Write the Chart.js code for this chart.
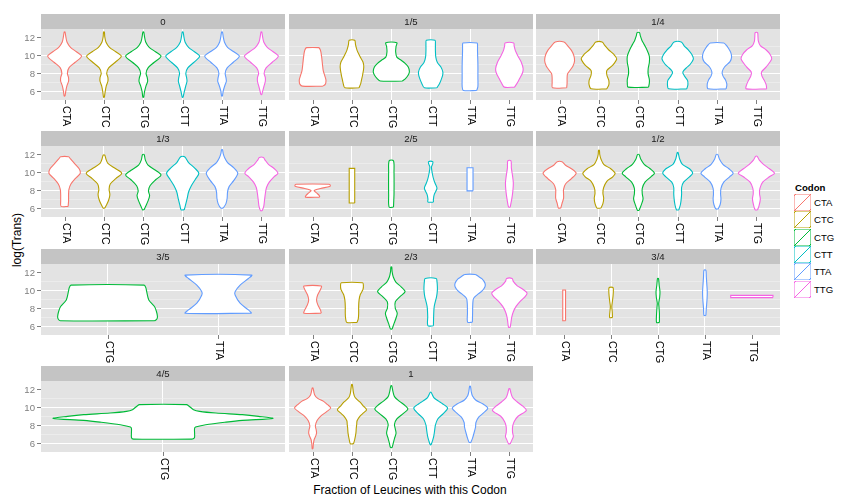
<!DOCTYPE html>
<html>
<head>
<meta charset="utf-8">
<script src="https://cdn.jsdelivr.net/npm/chart.js@4"></script>
<style>
  html, body { margin: 0; padding: 0; background: #fff; }
  #wrap { position: relative; width: 864px; height: 504px; overflow: hidden; font-family: "Liberation Sans", Arial, sans-serif; }
  #wrap canvas { position: absolute; }
  .axis-title { position: absolute; font-size: 12px; color: #000; white-space: nowrap; line-height: 14px; }
  #legend { position: absolute; left: 794px; top: 182px; font-size: 9.6px; }
  #legend .lt { font-weight: bold; height: 12px; line-height: 12px; margin-left: 1px; }
  #legend .row { display: flex; align-items: center; height: 17.3px; }
  #legend .key { width: 17px; height: 17px; box-sizing: border-box; }
  #legend .lab { margin-left: 3px; }
</style>
</head>
<body>
<div id="wrap">
  <div class="axis-title" style="left:410px; top:483px; transform:translateX(-50%);">Fraction of Leucines with this Codon</div>
  <div class="axis-title" style="left:17px; top:240px; transform:translate(-50%,-50%) rotate(-90deg);">log(Trans)</div>
  <div id="legend"><div class="lt">Codon</div></div>
</div>
<script>
// ----- Data -----
const codons = ["CTA", "CTC", "CTG", "CTT", "TTA", "TTG"];
const codonColors = ["#F8766D", "#B79F00", "#00BA38", "#00BFC4", "#619CFF", "#F564E3"];
const facets = ["0", "1/5", "1/4", "1/3", "2/5", "1/2", "3/5", "2/3", "3/4", "4/5", "1"];
const facetCodons = [codons, codons, codons, codons, codons, codons,
  ["CTG", "TTA"], codons, ["CTA", "CTC", "CTG", "TTA", "TTG"], ["CTG"], codons];
const yTicks = [6, 8, 10, 12];
const yMin = 5.0, yMax = 12.95;

// violin outlines, bottom to top: [log(Trans), half width]
const vio0 = [
  [[5.43,0.01],[6.0,0.03],[6.6,0.06],[7.1,0.1],[7.5,0.1],[8.0,0.07],[8.6,0.11],[9.2,0.26],[9.9,0.43],[10.4,0.3],[10.9,0.15],[11.5,0.06],[12.1,0.03],[12.62,0.01]],
  [[5.3,0.01],[5.9,0.03],[6.6,0.06],[7.1,0.1],[7.5,0.1],[8.0,0.07],[8.6,0.12],[9.2,0.28],[9.9,0.44],[10.4,0.3],[10.9,0.14],[11.5,0.05],[12.1,0.02],[12.62,0.01]],
  [[5.3,0.01],[5.9,0.03],[6.6,0.07],[7.1,0.11],[7.5,0.1],[8.0,0.07],[8.6,0.12],[9.2,0.27],[9.9,0.45],[10.4,0.31],[10.9,0.15],[11.5,0.06],[12.1,0.03],[12.62,0.01]],
  [[5.3,0.01],[5.9,0.04],[6.6,0.08],[7.1,0.11],[7.5,0.1],[8.0,0.08],[8.6,0.13],[9.2,0.28],[9.9,0.43],[10.4,0.3],[10.9,0.15],[11.5,0.06],[12.1,0.03],[12.62,0.01]],
  [[5.43,0.01],[6.0,0.03],[6.6,0.07],[7.1,0.11],[7.5,0.1],[8.0,0.08],[8.6,0.13],[9.2,0.28],[9.9,0.44],[10.4,0.3],[10.9,0.14],[11.5,0.06],[12.1,0.03],[12.62,0.01]],
  [[5.6,0.01],[6.1,0.04],[6.6,0.07],[7.1,0.1],[7.5,0.1],[8.0,0.07],[8.6,0.12],[9.2,0.27],[9.9,0.43],[10.4,0.3],[10.9,0.15],[11.5,0.06],[12.1,0.03],[12.62,0.01]]
];
const vio15 = [
  [[6.55,0.26],[6.75,0.32],[7.2,0.34],[7.7,0.31],[8.3,0.27],[9.0,0.25],[9.8,0.23],[10.4,0.21],[10.75,0.18],[10.86,0.15]],
  [[6.37,0.18],[6.8,0.22],[7.2,0.24],[7.8,0.27],[8.7,0.3],[9.25,0.28],[9.9,0.2],[10.56,0.13],[11.2,0.09],[11.69,0.07]],
  [[7.12,0.28],[7.4,0.36],[7.8,0.43],[8.2,0.46],[8.7,0.43],[9.1,0.35],[9.45,0.25],[9.8,0.14],[10.4,0.11],[11.0,0.12],[11.42,0.14]],
  [[6.37,0.16],[6.8,0.22],[7.2,0.26],[7.7,0.3],[8.13,0.31],[8.7,0.26],[9.2,0.17],[9.8,0.13],[10.6,0.12],[11.3,0.12],[11.69,0.11]],
  [[6.07,0.17],[6.5,0.2],[7.5,0.2],[9.0,0.2],[10.5,0.19],[11.2,0.19],[11.39,0.18]],
  [[6.44,0.13],[6.9,0.2],[7.4,0.26],[8.0,0.33],[8.5,0.35],[9.25,0.3],[9.9,0.22],[10.56,0.15],[11.1,0.12],[11.39,0.11]]
];
const vio14 = [
  [[6.37,0.18],[6.9,0.19],[7.4,0.19],[7.9,0.2],[8.3,0.26],[8.8,0.34],[9.4,0.38],[10.0,0.36],[10.56,0.3],[11.1,0.2],[11.5,0.11]],
  [[6.25,0.2],[6.7,0.25],[7.2,0.25],[7.8,0.2],[8.3,0.2],[8.9,0.35],[9.6,0.45],[10.1,0.38],[10.6,0.25],[11.1,0.15],[11.5,0.08]],
  [[6.44,0.26],[6.9,0.28],[7.3,0.28],[7.9,0.25],[8.5,0.25],[9.2,0.28],[9.9,0.28],[10.6,0.22],[11.2,0.15],[11.7,0.09],[12.2,0.05],[12.55,0.03]],
  [[6.25,0.23],[6.7,0.26],[7.2,0.25],[7.7,0.17],[8.13,0.13],[8.6,0.22],[9.0,0.32],[9.6,0.4],[10.1,0.36],[10.6,0.27],[11.1,0.16],[11.5,0.09]],
  [[6.25,0.23],[6.7,0.25],[7.2,0.22],[7.7,0.15],[8.13,0.13],[8.7,0.19],[9.3,0.33],[9.8,0.37],[10.3,0.35],[10.8,0.29],[11.2,0.22],[11.39,0.17]],
  [[6.25,0.26],[6.7,0.25],[7.2,0.2],[7.7,0.14],[8.13,0.13],[8.7,0.25],[9.6,0.39],[10.1,0.35],[10.6,0.25],[11.1,0.1],[11.6,0.05],[12.1,0.04],[12.55,0.03]]
];
const vio13 = [
  [[6.19,0.09],[6.8,0.1],[7.5,0.1],[8.1,0.11],[8.7,0.16],[9.3,0.27],[9.9,0.4],[10.4,0.37],[11.0,0.25],[11.5,0.15],[11.74,0.1]],
  [[6.0,0.02],[6.4,0.07],[6.9,0.12],[7.5,0.15],[8.1,0.13],[8.7,0.16],[9.3,0.3],[9.9,0.45],[10.4,0.3],[11.0,0.1],[11.5,0.05],[11.93,0.02]],
  [[5.81,0.02],[6.2,0.06],[6.8,0.12],[7.4,0.16],[7.9,0.13],[8.5,0.17],[9.2,0.32],[9.7,0.45],[10.2,0.32],[10.8,0.12],[11.4,0.05],[12.0,0.02]],
  [[5.81,0.04],[6.3,0.07],[7.0,0.11],[7.8,0.15],[8.5,0.22],[9.2,0.32],[9.9,0.41],[10.5,0.3],[11.1,0.15],[11.74,0.05]],
  [[6.0,0.03],[6.5,0.1],[7.1,0.13],[7.8,0.14],[8.4,0.18],[9.1,0.3],[9.9,0.4],[10.5,0.3],[11.1,0.14],[11.6,0.07],[12.1,0.03],[12.55,0.01]],
  [[5.7,0.02],[6.2,0.06],[6.9,0.08],[7.6,0.1],[8.3,0.13],[8.9,0.2],[9.5,0.32],[9.9,0.42],[10.4,0.33],[10.9,0.18],[11.4,0.09],[11.67,0.05]]
];
const vio25 = [
  [[7.22,0.18],[7.4,0.17],[7.7,0.1],[7.96,0.04],[8.2,0.2],[8.41,0.43],[8.55,0.45],[8.67,0.42]],
  [[6.56,0.07],[10.44,0.07]],
  [[6.11,0.055],[7.5,0.068],[8.7,0.07],[10.0,0.068],[11.3,0.055]],
  [[6.67,0.07],[7.0,0.07],[7.5,0.09],[8.2,0.16],[8.7,0.12],[9.15,0.08],[9.9,0.04],[10.6,0.02],[10.95,0.05],[11.19,0.055]],
  [[7.93,0.076],[10.52,0.076]],
  [[6.11,0.02],[7.0,0.06],[8.0,0.09],[8.8,0.1],[9.6,0.08],[10.5,0.05],[11.3,0.04]]
];
const vio12 = [
  [[6.0,0.03],[6.5,0.06],[7.1,0.1],[7.6,0.1],[8.1,0.1],[8.7,0.15],[9.3,0.3],[9.9,0.42],[10.4,0.3],[10.8,0.15],[11.19,0.06]],
  [[6.0,0.05],[6.5,0.1],[7.1,0.12],[7.7,0.1],[8.3,0.12],[9.0,0.2],[9.5,0.35],[9.9,0.41],[10.4,0.3],[10.9,0.12],[11.5,0.05],[12.0,0.02],[12.48,0.01]],
  [[5.74,0.02],[6.3,0.07],[7.0,0.12],[7.6,0.1],[8.2,0.1],[8.9,0.17],[9.5,0.32],[9.9,0.41],[10.4,0.3],[10.9,0.15],[11.5,0.06],[12.0,0.02]],
  [[5.8,0.03],[6.4,0.07],[7.0,0.09],[7.6,0.1],[8.3,0.1],[8.9,0.15],[9.5,0.3],[9.9,0.38],[10.4,0.3],[10.9,0.12],[11.5,0.05],[12.22,0.01]],
  [[5.9,0.03],[6.4,0.08],[7.0,0.1],[7.6,0.09],[8.2,0.1],[8.9,0.17],[9.5,0.32],[9.9,0.41],[10.4,0.3],[10.9,0.15],[11.5,0.06],[12.0,0.02]],
  [[5.8,0.03],[6.3,0.07],[7.0,0.1],[7.6,0.08],[8.2,0.09],[8.9,0.16],[9.5,0.33],[9.9,0.46],[10.4,0.33],[10.9,0.18],[11.4,0.07],[11.8,0.02]]
];
const vio35 = [
  [[6.59,0.426],[6.8,0.445],[7.07,0.45],[7.63,0.441],[8.19,0.423],[8.93,0.372],[9.85,0.353],[10.3,0.345],[10.59,0.33]],
  [[7.44,0.3],[7.81,0.27],[8.56,0.195],[9.48,0.15],[9.85,0.15],[10.59,0.195],[11.33,0.27],[11.7,0.3]]
];
const vio23 = [
  [[7.44,0.22],[7.8,0.2],[8.4,0.13],[8.93,0.1],[9.5,0.13],[10.1,0.2],[10.48,0.22]],
  [[6.41,0.13],[6.8,0.16],[7.4,0.17],[8.2,0.17],[8.9,0.18],[9.5,0.21],[10.1,0.28],[10.6,0.29],[10.85,0.27]],
  [[5.67,0.02],[6.3,0.07],[6.9,0.12],[7.44,0.15],[8.0,0.1],[8.7,0.1],[9.3,0.22],[9.85,0.35],[10.4,0.25],[10.9,0.12],[11.5,0.05],[12.1,0.02],[12.63,0.01]],
  [[6.04,0.07],[7.07,0.075],[8.19,0.09],[9.3,0.15],[10.0,0.17],[10.41,0.17],[11.0,0.16],[11.33,0.14]],
  [[6.44,0.06],[7.5,0.065],[8.5,0.07],[9.1,0.09],[9.5,0.18],[9.9,0.3],[10.4,0.38],[10.8,0.38],[11.3,0.3],[11.6,0.2],[11.78,0.13]],
  [[5.85,0.02],[6.4,0.04],[7.0,0.06],[7.6,0.1],[8.2,0.17],[8.8,0.28],[9.3,0.4],[9.7,0.45],[10.1,0.35],[10.5,0.2],[11.0,0.1],[11.33,0.07]]
];
const vio34 = [
  [[6.59,0.03],[10.04,0.03]],
  [[6.96,0.03],[7.6,0.025],[8.19,0.015],[8.8,0.03],[9.6,0.045],[10.3,0.042]],
  [[6.4,0.03],[7.44,0.03],[8.2,0.02],[8.56,0.015],[9.2,0.035],[9.85,0.042],[10.6,0.025],[11.33,0.01]],
  [[7.19,0.02],[8.0,0.03],[9.0,0.045],[9.85,0.05],[10.7,0.04],[11.5,0.03],[12.26,0.02]],
  [[9.19,0.45],[9.44,0.45]]
];
const vio45 = [
  [[6.44,0.145],[6.6,0.155],[7.6,0.155],[7.79,0.16],[8.05,0.21],[8.35,0.31],[8.54,0.39],[8.76,0.54],[8.99,0.47],[9.18,0.39],[9.36,0.26],[9.55,0.18],[9.74,0.15],[10.1,0.13],[10.3,0.115]]
];
const vio1 = [
  [[5.36,0.01],[5.9,0.02],[6.4,0.04],[6.8,0.08],[7.12,0.1],[7.5,0.09],[7.9,0.07],[8.5,0.11],[9.0,0.2],[9.5,0.35],[9.93,0.46],[10.3,0.38],[10.67,0.28],[11.0,0.13],[11.42,0.05],[12.17,0.01]],
  [[5.92,0.04],[6.4,0.07],[7.12,0.1],[7.7,0.11],[8.05,0.12],[8.5,0.13],[9.0,0.2],[9.4,0.3],[9.74,0.37],[10.1,0.3],[10.6,0.2],[11.1,0.08],[11.6,0.04],[12.55,0.01]],
  [[5.5,0.02],[6.0,0.05],[6.5,0.08],[7.1,0.12],[7.6,0.1],[8.1,0.08],[8.7,0.14],[9.3,0.3],[9.8,0.42],[10.2,0.35],[10.7,0.2],[11.2,0.08],[11.8,0.04],[12.43,0.01]],
  [[5.8,0.01],[6.3,0.05],[6.8,0.08],[7.4,0.1],[8.0,0.12],[8.7,0.18],[9.3,0.32],[9.93,0.43],[10.4,0.3],[10.7,0.2],[11.1,0.08],[11.69,0.01]],
  [[6.07,0.02],[6.5,0.06],[7.1,0.1],[7.8,0.14],[8.3,0.15],[8.9,0.22],[9.4,0.35],[9.93,0.45],[10.4,0.32],[10.8,0.15],[11.3,0.06],[11.8,0.03],[12.36,0.01]],
  [[5.92,0.02],[6.3,0.06],[6.74,0.1],[7.2,0.08],[7.8,0.08],[8.4,0.12],[9.0,0.22],[9.66,0.43],[10.1,0.35],[10.6,0.2],[11.1,0.08],[11.6,0.04],[12.1,0.01]]
];
const facetViolins = [vio0, vio15, vio14, vio13, vio25, vio12, vio35, vio23, vio34, vio45, vio1];

// ----- Layout -----
const colLefts = [41, 289, 536];
const panelTops = [29, 146, 264, 381];
const panelW = 244, panelH = 71, stripH = 15, labelH = 32, yLabW = 41;
const FONT = '"Liberation Sans", Arial, sans-serif';

// closed outline: right side upward, left side downward, back to start
function outline(prof, xc) {
  const right = prof.map(([y, w]) => ({ x: xc + w, y }));
  const left = prof.slice().reverse().map(([y, w]) => ({ x: xc - w, y }));
  return right.concat(left, [right[0]]);
}

const panelDeco = {
  id: 'panelDeco',
  beforeDraw(chart, args, opts) {
    const { ctx, chartArea: a } = chart;
    ctx.save();
    ctx.fillStyle = '#e3e3e3';
    ctx.fillRect(a.left, a.top, a.right - a.left, a.bottom - a.top);
    ctx.fillStyle = '#c4c4c4';
    ctx.fillRect(a.left, 0, a.right - a.left, a.top);
    ctx.fillStyle = '#1a1a1a';
    ctx.font = '9.6px ' + FONT;
    ctx.textAlign = 'center';
    ctx.textBaseline = 'middle';
    ctx.fillText(opts.title, (a.left + a.right) / 2, a.top / 2 + 0.5);
    ctx.restore();
  },
  afterDraw(chart, args, opts) {
    const { ctx, chartArea: a, scales: { x, y } } = chart;
    ctx.save();
    ctx.strokeStyle = '#7f7f7f';
    ctx.lineWidth = 1;
    opts.labels.forEach((lab, i) => {
      const px = Math.round(x.getPixelForValue(i + 1)) + 0.5;
      ctx.beginPath();
      ctx.moveTo(px, a.bottom);
      ctx.lineTo(px, a.bottom + 4);
      ctx.stroke();
      ctx.save();
      ctx.translate(px, a.bottom + 6);
      ctx.rotate(Math.PI / 2);
      ctx.fillStyle = '#000';
      ctx.font = '10.5px ' + FONT;
      ctx.textAlign = 'left';
      ctx.textBaseline = 'middle';
      ctx.fillText(lab, 0, 0);
      ctx.restore();
    });
    if (opts.yLabels) {
      ctx.fillStyle = '#7f7f7f';
      ctx.font = '9.6px ' + FONT;
      ctx.textAlign = 'right';
      ctx.textBaseline = 'middle';
      yTicks.forEach(v => {
        const py = Math.round(y.getPixelForValue(v)) + 0.5;
        ctx.beginPath();
        ctx.moveTo(a.left - 4, py);
        ctx.lineTo(a.left, py);
        ctx.stroke();
        ctx.fillText(String(v), a.left - 6, py + 0.5);
      });
    }
    ctx.restore();
  }
};

const wrap = document.getElementById('wrap');

facets.forEach((title, f) => {
  const row = Math.floor(f / 3), col = f % 3;
  const labels = facetCodons[f];
  const n = labels.length;
  const padL = col === 0 ? yLabW : 0;
  const canvas = document.createElement('canvas');
  canvas.width = padL + panelW;
  canvas.height = stripH + panelH + labelH;
  canvas.style.left = (colLefts[col] - padL) + 'px';
  canvas.style.top = (panelTops[row] - stripH) + 'px';
  wrap.appendChild(canvas);

  const datasets = facetViolins[f].map((prof, i) => ({
    data: outline(prof, i + 1),
    borderColor: codonColors[codons.indexOf(labels[i])],
    backgroundColor: '#ffffff',
    fill: 'shape',
    tension: prof.length > 2 ? 0.3 : 0,
    borderWidth: 1.1,
    pointRadius: 0
  }));

  new Chart(canvas, {
    type: 'line',
    data: { datasets },
    options: {
      responsive: false,
      animation: false,
      events: [],
      layout: { padding: { left: padL, top: stripH, right: 0, bottom: labelH } },
      plugins: {
        legend: { display: false },
        tooltip: { enabled: false },
        panelDeco: { title, labels, yLabels: col === 0 }
      },
      scales: {
        x: {
          type: 'linear', min: 0.4, max: n + 0.6,
          ticks: { display: false, stepSize: 1 },
          border: { display: false },
          grid: {
            drawTicks: false,
            color: c => (Number.isInteger(c.tick.value) && c.tick.value >= 1 && c.tick.value <= n) ? '#ffffff' : 'rgba(0,0,0,0)',
            lineWidth: 1
          }
        },
        y: {
          type: 'linear', min: yMin, max: yMax,
          ticks: { display: false, stepSize: 1 },
          border: { display: false },
          grid: {
            drawTicks: false,
            color: c => {
              const v = c.tick.value;
              if (yTicks.includes(v)) return '#ffffff';
              if (Number.isInteger(v) && v > yMin && v < yMax) return '#f1f1f1';
              return 'rgba(0,0,0,0)';
            },
            lineWidth: c => yTicks.includes(c.tick.value) ? 1 : 0.6
          }
        }
      }
    },
    plugins: [panelDeco]
  });
});

// ----- Legend -----
const legend = document.getElementById('legend');
codons.forEach((cd, i) => {
  const c = codonColors[i];
  const row = document.createElement('div');
  row.className = 'row';
  row.innerHTML = `<div class="key" style="border:1px solid ${c}80;background:linear-gradient(to bottom right, transparent calc(50% - 0.6px), ${c} calc(50% - 0.6px), ${c} calc(50% + 0.6px), transparent calc(50% + 0.6px)), #fff;"></div><span class="lab">${cd}</span>`;
  legend.appendChild(row);
});
</script>
</body>
</html>
